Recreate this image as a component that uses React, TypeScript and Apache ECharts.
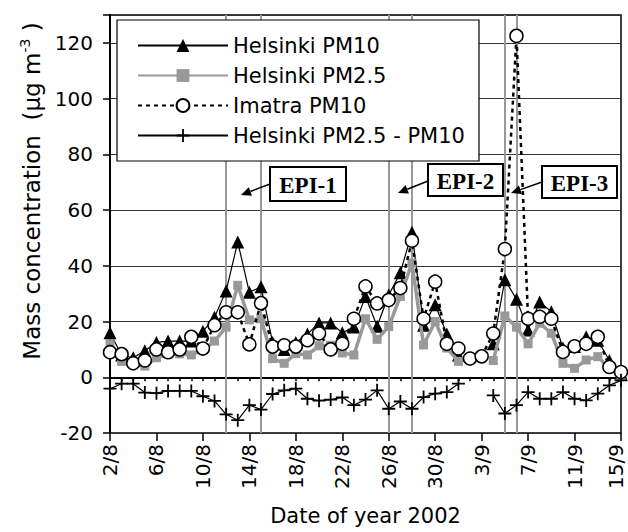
import React, { useEffect, useRef } from 'react';
import * as echarts from 'echarts';

const dates = ['2/8','3/8','4/8','5/8','6/8','7/8','8/8','9/8','10/8','11/8','12/8','13/8','14/8','15/8','16/8','17/8','18/8','19/8','20/8','21/8','22/8','23/8','24/8','25/8','26/8','27/8','28/8','29/8','30/8','31/8','1/9','2/9','3/9','4/9','5/9','6/9','7/9','8/9','9/9','10/9','11/9','12/9','13/9','14/9','15/9'];

const helsinkiPM10 = [16, 8, 7, 9.5, 12.5, 13, 13, 13, 16.5, 21.5, 31, 48.5, 30.5, 32.5, 12.5, 10, 12.5, 15.5, 19.5, 19.5, 16, 18, 29, 18.3, 29.5, 37.5, 52, 18.7, 26, 15.5, 8, null, null, 12, 35, 28, 17, 27, 23.5, 10.5, 11, 14.5, 13.3, 6, 1.5];
const helsinkiPM25 = [12, 5.7, 5, 4, 7, 8.4, 8.4, 8, 9.7, 13, 18, 33, 20.6, 21, 6.7, 5, 8.5, 8, 11.3, 11.5, 8.7, 8, 21, 13.6, 18.2, 29, 41, 11.6, 20, 10.5, 5.7, null, null, 6, 22, 18, 12, 19.4, 15.8, 5, 3.2, 6.2, 7.4, 3.1, 0.4];
const imatraPM10 = [9, 8.3, 5, 6, 10, 9, 10, 14.5, 10.3, 18.7, 23.3, 23.3, 11.8, 26.6, 11, 11.5, 11, 13.3, 15.7, 10, 12, 21, 32.6, 26.5, 27.7, 32, 49, 21, 34.3, 12, 10.3, 6.7, 7.5, 15.7, 46, 122.5, 21, 21.7, 21, 9.1, 11.1, 12, 14.5, 3.7, 1.9];
const helsinkiDiff = [-4.1, -2.3, -2.3, -5.5, -5.7, -4.9, -4.9, -4.9, -6.8, -8.5, -13.3, -15.4, -10, -11.6, -6, -4.7, -4.1, -7.7, -8.4, -8, -7.2, -10, -8, -4.7, -11.3, -8.7, -11.3, -7.1, -5.9, -5.3, -2.3, null, null, -6.5, -13, -10, -5.3, -7.7, -7.7, -5.3, -7.7, -8.3, -5.9, -2.9, -1.1];

const seriesNames = ['Helsinki PM10', 'Helsinki PM2.5', 'Imatra PM10', 'Helsinki PM2.5 - PM10'];
const episodeBounds = ['12/8', '15/8', '26/8', '28/8', '5/9', '6/9'];
const episodeLabels = ['EPI-1', 'EPI-2', 'EPI-3'];

const SANS = 'DejaVu Sans';
const CROSS = 'path://M4.3,0H5.7V4.3H10V5.7H5.7V10H4.3V5.7H0V4.3H4.3Z';

function arrow(x1: number, y1: number, x2: number, y2: number) {
  const dx = x2 - x1, dy = y2 - y1;
  const L = Math.hypot(dx, dy);
  const ux = dx / L, uy = dy / L;
  const hl = 10, hw = 4.5;
  const bx = x2 - ux * hl, by = y2 - uy * hl;
  return [
    { type: 'line', z: 30, shape: { x1, y1, x2: bx, y2: by }, style: { stroke: '#000', lineWidth: 1.5 } },
    { type: 'polygon', z: 30, shape: { points: [[x2, y2], [bx - uy * hw, by + ux * hw], [bx + uy * hw, by - ux * hw]] }, style: { fill: '#000' } },
  ];
}

function labelBox(text: string, x: number, y: number, w: number, h: number) {
  return [
    { type: 'rect', z: 30, shape: { x, y, width: w, height: h }, style: { fill: '#fff', stroke: '#000', lineWidth: 2 } },
    { type: 'text', z: 31, x: x + w / 2, y: y + h / 2 + 1, style: { text, fill: '#000', font: 'bold 23px "Liberation Serif"', align: 'center', verticalAlign: 'middle' } },
  ];
}

export default function App() {
  const ref = useRef<HTMLDivElement>(null);
  useEffect(() => {
    if (!ref.current) return;
    const chart = echarts.init(ref.current, null, { renderer: 'svg' });
    const lastDate = dates[dates.length - 1];
    const option: any = {
      animation: false,
      backgroundColor: '#fff',
      textStyle: { fontFamily: SANS },
      grid: { left: 110, right: 7, top: 15, bottom: 99, show: true, borderColor: '#000', borderWidth: 1.5, backgroundColor: 'transparent' },
      legend: {
        data: seriesNames,
        orient: 'vertical',
        left: 132,
        top: 30,
        itemWidth: 90,
        itemHeight: 16,
        itemGap: 9,
        z: 40,
        selectedMode: false,
        textStyle: { fontFamily: SANS, fontSize: 21, color: '#000', lineHeight: 20 },
      },
      xAxis: [
        {
          type: 'category',
          data: dates,
          boundaryGap: false,
          name: 'Date of year 2002',
          nameLocation: 'middle',
          nameGap: 72,
          nameTextStyle: { fontFamily: SANS, fontSize: 21, color: '#000' },
          axisLine: { lineStyle: { color: '#000', width: 2 } },
          axisTick: { interval: 0, length: 4, lineStyle: { color: '#000', width: 1.5 } },
          axisLabel: {
            interval: 3,
            rotate: 90,
            margin: 11,
            fontFamily: SANS,
            fontSize: 20,
            color: '#000',
            formatter: (v: string) => (v === lastDate ? '{last|' + v + '}' : v),
            rich: { last: { fontFamily: SANS, fontSize: 20, color: '#000', padding: [0, 0, 10, 0] } },
          },
          splitLine: { show: false },
        },
        {
          type: 'category',
          data: dates,
          boundaryGap: false,
          position: 'bottom',
          axisLine: { show: false },
          axisTick: { interval: 3, length: 8, lineStyle: { color: '#000', width: 1.5 } },
          axisLabel: { show: false },
          splitLine: { show: false },
        },
      ],
      yAxis: {
        type: 'value',
        min: -20,
        max: 130,
        interval: 20,
        name: '{t|Mass concentration  (µg m}{s|-3}{t| )}',
        nameLocation: 'middle',
        nameGap: 60,
        nameTextStyle: {
          padding: [0, 0, 0, 66],
          rich: {
            t: { fontFamily: SANS, fontSize: 23, color: '#000', lineHeight: 28 },
            s: { fontFamily: SANS, fontSize: 14, color: '#000', lineHeight: 28, verticalAlign: 'top' },
          },
        },
        axisLine: { show: true, lineStyle: { color: '#000', width: 2 } },
        axisTick: { show: true, length: 7, lineStyle: { color: '#000', width: 1.5 } },
        axisLabel: {
          margin: 17,
          fontFamily: SANS,
          fontSize: 20,
          color: '#000',
          formatter: (v: number) => (v > 120 ? '' : String(v)),
        },
        splitLine: { show: true, lineStyle: { color: '#333', width: 1 } },
      },
      graphic: [
        { type: 'rect', z: 35, shape: { x: 117, y: 20, width: 362, height: 141 }, style: { fill: '#fff', stroke: '#000', lineWidth: 1.2 } },
        ...labelBox(episodeLabels[0], 270, 167, 76, 34),
        ...arrow(270, 184, 241, 195),
        ...labelBox(episodeLabels[1], 428, 164, 75, 32),
        ...arrow(428, 181, 398, 193),
        ...labelBox(episodeLabels[2], 542, 166, 75, 32),
        ...arrow(542, 182, 511, 193),
      ],
      series: [
        {
          name: seriesNames[0],
          type: 'line',
          data: helsinkiPM10,
          z: 2,
          showAllSymbol: true,
          symbol: 'triangle',
          symbolSize: 13,
          lineStyle: { color: '#000', width: 1.2 },
          itemStyle: { color: '#000' },
          markLine: {
            silent: true,
            z: 1,
            symbol: 'none',
            label: { show: false },
            lineStyle: { color: '#999', width: 2, type: 'solid' },
            data: episodeBounds.map((d) => ({ xAxis: d })),
          },
        },
        {
          name: seriesNames[1],
          type: 'line',
          data: helsinkiPM25,
          z: 3,
          showAllSymbol: true,
          symbol: 'rect',
          symbolSize: 9,
          lineStyle: { color: '#999', width: 3.5 },
          itemStyle: { color: '#999' },
        },
        {
          name: seriesNames[2],
          type: 'line',
          data: imatraPM10,
          z: 4,
          showAllSymbol: true,
          symbol: 'circle',
          symbolSize: 13,
          lineStyle: { color: '#000', width: 2.5, type: [4, 4] },
          itemStyle: { color: '#fff', borderColor: '#000', borderWidth: 1.5 },
        },
        {
          name: seriesNames[3],
          type: 'line',
          data: helsinkiDiff,
          z: 5,
          showAllSymbol: true,
          symbol: CROSS,
          symbolSize: 13,
          lineStyle: { color: '#000', width: 1.2 },
          itemStyle: { color: '#000' },
        },
      ],
    };
    chart.setOption(option);
    return () => chart.dispose();
  }, []);
  return <div ref={ref} style={{ position: 'fixed', left: 0, top: 0, width: 628, height: 532 }} />;
}
